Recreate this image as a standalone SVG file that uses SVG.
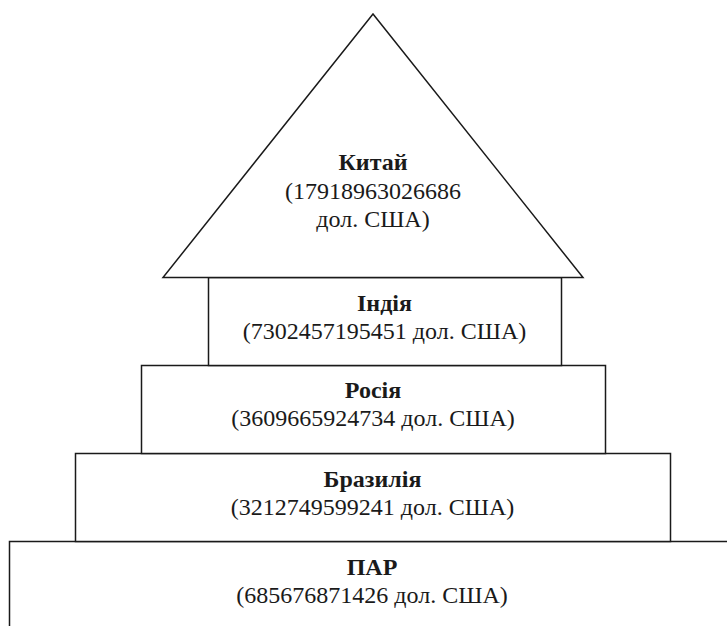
<svg xmlns="http://www.w3.org/2000/svg" width="727" height="626" viewBox="0 0 727 626">
<style>
.s{fill:#fff;stroke:#1a1a1a;stroke-width:1.5}
.t{font-family:"Liberation Serif","Times New Roman",serif;font-size:24px;fill:#1a1a1a;text-anchor:middle}
.b{font-weight:bold}
</style>
<rect width="727" height="626" fill="#fff"/>
<g id="par">
<rect class="s" x="9.5" y="541.5" width="730" height="100"/>
<text class="t b" x="372" y="575">ПАР</text>
<text class="t" x="372" y="603">(685676871426 дол. США)</text>
</g>
<g id="brazil">
<rect class="s" x="75.5" y="453.5" width="595" height="88"/>
<text class="t b" x="372.5" y="487">Бразилія</text>
<text class="t" x="372.5" y="515">(3212749599241 дол. США)</text>
</g>
<g id="russia">
<rect class="s" x="141.5" y="365.5" width="464" height="88"/>
<text class="t b" x="373" y="398">Росія</text>
<text class="t" x="373" y="426">(3609665924734 дол. США)</text>
</g>
<g id="india">
<rect class="s" x="208.5" y="277.5" width="353" height="88"/>
<text class="t b" x="384.5" y="311">Індія</text>
<text class="t" x="384.5" y="339">(7302457195451 дол. США)</text>
</g>
<g id="china">
<polygon class="s" points="373,14 163,277.5 583,277.5"/>
<text class="t b" x="373" y="170">Китай</text>
<text class="t" x="373" y="199">(17918963026686</text>
<text class="t" x="373" y="227">дол. США)</text>
</g>
<g id="connectors"/>
</svg>
